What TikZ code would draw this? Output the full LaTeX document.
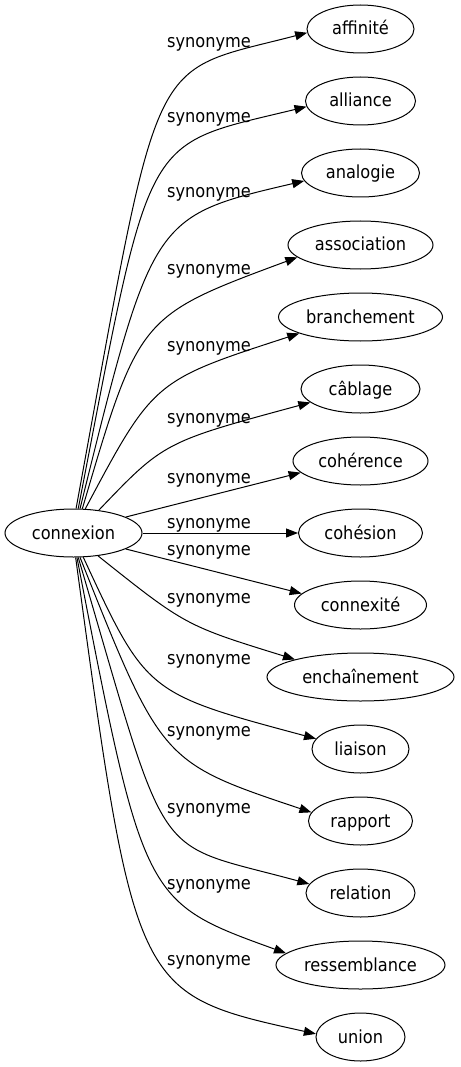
\documentclass[tikz,border=0pt]{standalone}
\usepackage{fontspec}
\setmainfont{DejaVu Sans}[FakeStretch=0.9]
\usetikzlibrary{shapes.geometric,arrows.meta}
\tikzset{
  word/.style={ellipse, draw=black, line width=1pt, inner sep=0pt,
    minimum height=48pt, text height=16pt, text depth=4pt,
    font=\fontsize{18}{20}\selectfont},
  lbl/.style={inner sep=0pt, text height=16pt, text depth=4pt,
    font=\fontsize{18}{20}\selectfont},
  edge/.style={draw=black, line width=1pt, -{Triangle[length=12pt,width=9pt]}}
}
\begin{document}
\begin{tikzpicture}[x=1pt,y=-1pt]
\useasboundingbox (0,0) rectangle (460,1067);
% nodes
\node[word, minimum width=137pt] (c) at (73.5,533) {connexion};
\node[word, minimum width=107pt] (t1) at (360.5,29) {affinité};
\node[word, minimum width=110pt] (t2) at (360.5,101) {alliance};
\node[word, minimum width=118pt] (t3) at (360.5,173) {analogie};
\node[word, minimum width=145pt] (t4) at (360.5,245) {association};
\node[word, minimum width=164pt] (t5) at (360.5,317) {branchement};
\node[word, minimum width=119pt] (t6) at (360.5,389) {câblage};
\node[word, minimum width=135pt] (t7) at (360.5,461) {cohérence};
\node[word, minimum width=124pt] (t8) at (360.5,533) {cohésion};
\node[word, minimum width=132pt] (t9) at (360.5,605) {connexité};
\node[word, minimum width=187pt] (t10) at (360.5,677) {enchaînement};
\node[word, minimum width=97pt] (t11) at (360.5,749) {liaison};
\node[word, minimum width=104pt] (t12) at (360.5,821) {rapport};
\node[word, minimum width=109pt] (t13) at (360.5,893) {relation};
\node[word, minimum width=169pt] (t14) at (360.5,965) {ressemblance};
\node[word, minimum width=89pt] (t15) at (360.5,1037) {union};
% labels
\node[lbl] (l1) at (209,42) {synonyme};
\node[lbl] (l2) at (209,117) {synonyme};
\node[lbl] (l3) at (209,192) {synonyme};
\node[lbl] (l4) at (209,268) {synonyme};
\node[lbl] (l5) at (209,345) {synonyme};
\node[lbl] (l6) at (209,417) {synonyme};
\node[lbl] (l7) at (209,477) {synonyme};
\node[lbl] (l8) at (209,522) {synonyme};
\node[lbl] (l9) at (209,549) {synonyme};
\node[lbl] (l10) at (209,597) {synonyme};
\node[lbl] (l11) at (209,658) {synonyme};
\node[lbl] (l12) at (209,730) {synonyme};
\node[lbl] (l13) at (209,807) {synonyme};
\node[lbl] (l14) at (209,883) {synonyme};
\node[lbl] (l15) at (209,959) {synonyme};
% edges
\draw[edge] (c.84) .. controls (161.6,41.4) and (145.5,74.7) .. (t1.184);
\draw[edge] (c.79) .. controls (152.1,126.8) and (140.7,146.9) .. (t2.186);
\draw[edge] (c.75) .. controls (152.3,216.4) and (152.3,216.4) .. (t3.188);
\draw[edge] (c.70) .. controls (139,316) and (139,316) .. (t4.191);
\draw[edge] (c.64) .. controls (153.6,380.7) and (153.6,380.7) .. (t5.195);
\draw[edge] (c.42) .. controls (164,442) and (164,442) .. (t6.195);
\draw[edge] (c.17) -- (t7.191);
\draw[edge] (c.0) -- (t8.180);
\draw[edge] (c.-17) -- (t9.169);
\draw[edge] (c.-43) .. controls (185.5,625.6) and (185.5,625.6) .. (t10.165);
\draw[edge] (c.-68) .. controls (146.4,693.3) and (146.4,693.3) .. (t11.167);
\draw[edge] (c.-75) .. controls (161.6,762.2) and (161.6,762.2) .. (t12.170.5);
\draw[edge] (c.-79) .. controls (171.2,872.8) and (148.8,840.2) .. (t13.170.6);
\draw[edge] (c.-82) .. controls (143.7,901.8) and (143.7,901.8) .. (t14.171);
\draw[edge] (c.-85) .. controls (135,994) and (135,994) .. (t15.176);
\end{tikzpicture}
\end{document}
